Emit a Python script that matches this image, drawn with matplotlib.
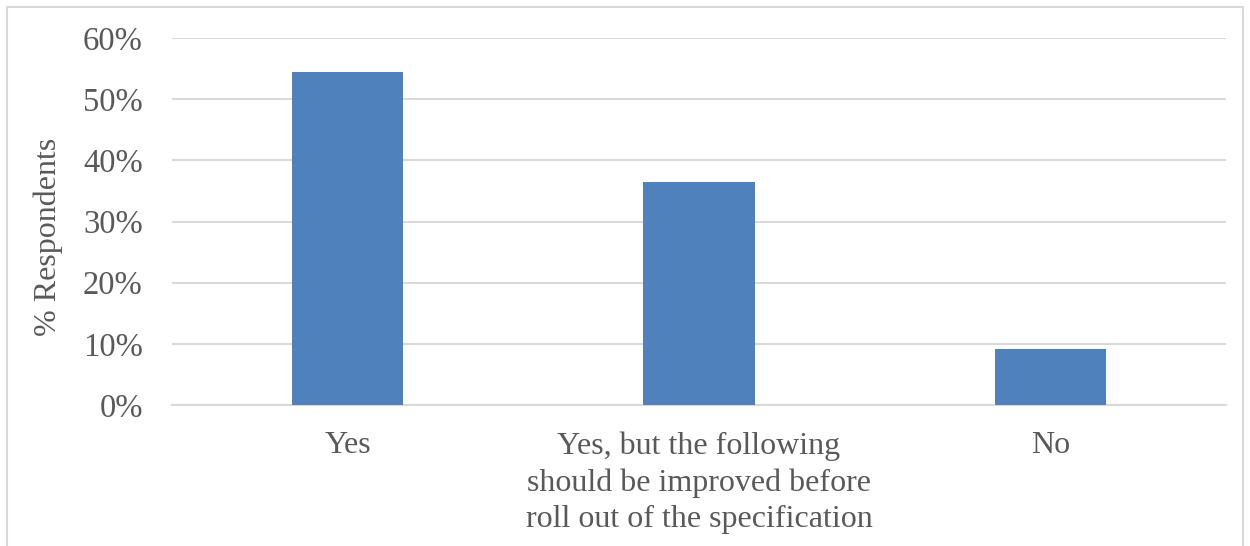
import matplotlib
matplotlib.use("Agg")
import matplotlib.pyplot as plt
from matplotlib.patches import Rectangle
from matplotlib.ticker import PercentFormatter

categories = ["Yes", "Yes, but the following\nshould be improved before\nroll out of the specification", "No"]
values = [54.5, 36.4, 9.1]
yticks = [0, 10, 20, 30, 40, 50, 60]

plt.rcParams['font.family'] = ['Liberation Serif', 'DejaVu Serif']
txt = '#595959'
grid = '#D9D9D9'

fig = plt.figure(figsize=(12.5, 5.46), dpi=100)
ax = fig.add_axes([0.1376, 0.2582, 0.9808 - 0.1376, 0.9304 - 0.2582])

x = range(len(categories))
ax.bar(x, values, width=0.316, color='#4F81BD', zorder=3)
ax.set_xlim(-0.5, len(categories) - 0.5)
ax.set_ylim(0, 60)
ax.set_yticks(yticks)
ax.yaxis.set_major_formatter(PercentFormatter(decimals=0))
ax.set_xticks(list(x))
ax.set_xticklabels(categories, fontsize=23, color=txt, linespacing=1.32)
ax.tick_params(axis='y', labelsize=23.5, labelcolor=txt, length=0, pad=21)
ax.tick_params(axis='x', length=0, pad=19)
ax.grid(axis='y', color=grid, linewidth=1.5, zorder=0)
for s in ['top', 'right', 'left']:
    ax.spines[s].set_visible(False)
ax.spines['bottom'].set_color(grid)
ax.spines['bottom'].set_linewidth(1.5)
fig.text(48/1250, 1 - 237/546, '% Respondents', rotation=90, ha='center', va='center',
         fontsize=23, color=txt)

fig.patches.append(Rectangle((7/1250, -0.01), 1236/1250, 1 - 7/546 + 0.01,
                             transform=fig.transFigure, fill=False,
                             edgecolor=grid, linewidth=1.5))

fig.savefig('out.png', dpi=100)
